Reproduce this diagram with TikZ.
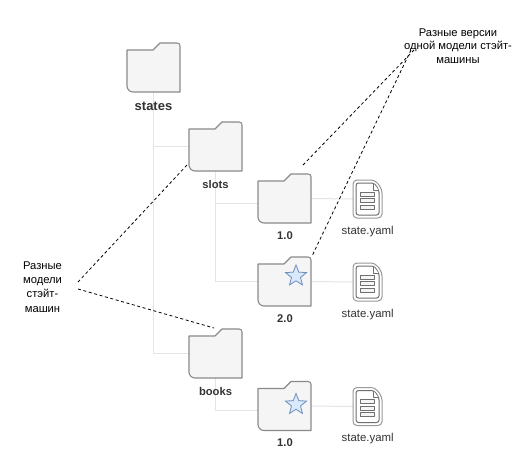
\documentclass[tikz,border=0pt]{standalone}
\usepackage{fontspec}
\setmainfont{Liberation Sans}
\usetikzlibrary{shapes.geometric}
\definecolor{fl}{HTML}{F5F5F5}
\definecolor{fd}{HTML}{8A8A8A}
\definecolor{fd2}{HTML}{707070}
\definecolor{fd3}{HTML}{999999}
\definecolor{tx}{HTML}{333333}
\definecolor{connc}{HTML}{E4E4E4}
\definecolor{stf}{HTML}{DAE8FC}
\definecolor{std}{HTML}{6C8EBF}
\tikzset{
  x=1pt,y=-1pt,
  hold/.style={inner sep=0pt,outer sep=0pt,minimum width=53pt,minimum height=49pt},
  fholder/.style={inner sep=0pt,outer sep=0pt,minimum width=29pt,minimum height=38pt},
  foldershape/.style={draw=fd,fill=fl,line width=1.1pt,line join=round},
  fileshape/.style={draw=fd2,fill=white,line width=1pt,line join=round},
  connline/.style={draw=connc,line width=1pt},
  dashline/.style={draw=black,line width=0.8pt,dash pattern=on 3pt off 2.6pt},
  lab/.style={text=tx,font=\fontsize{11.4}{13}\selectfont},
  blab/.style={text=tx,font=\fontsize{11.2}{13}\selectfont\bfseries},
  note/.style={text=black,font=\fontsize{11.2}{13.4}\selectfont,align=center,inner sep=0pt},
  starshape/.style={star,star points=5,star point ratio=2.3,draw=std,fill=stf,line width=0.8pt,minimum size=22pt,inner sep=0pt}
}
\newcommand{\folderat}[3]{%
  \node[hold] (#1) at (#2,#3) {};
}
\newcommand{\folderdraw}[1]{%
  \draw[foldershape,shift={(#1.north west)}]
    (0,7) -- (26,7) -- (33,0) -- (50,0) .. controls (52,0) and (53,1) .. (53,3)
    -- (53,49) -- (6,49) .. controls (2.7,49) and (0,46.3) .. (0,43) -- cycle;
}
\newcommand{\filedraw}[1]{%
  \begin{scope}[shift={(#1.north west)}]
    \draw[fileshape,draw=fd3,fill=white,rounded corners=4pt] (0,0) -- (22,0) -- (29,9) -- (29,38) -- (0,38) -- cycle;
    \draw[fileshape,rounded corners=2.5pt] (3,3) -- (21,3) -- (26,10) -- (26,35) -- (3,35) -- cycle;
    \draw[fileshape,line width=0.7pt] (20.5,3.5) -- (20.5,10) -- (25.5,10);
    \draw[fileshape,fill=fl,line width=0.8pt] (7,12) rectangle (21,16);
    \draw[fileshape,fill=fl,line width=0.8pt] (7,18.5) rectangle (21,22.5);
    \draw[fileshape,fill=fl,line width=0.8pt] (7,25) rectangle (21,29);
  \end{scope}
}
\begin{document}
\begin{tikzpicture}
\useasboundingbox (0,0) rectangle (516,458);
\fill[white] (0,0) rectangle (516,458);
% positions
\folderat{states}{153.5}{67.5}
\folderat{slots}{215.5}{146.5}
\folderat{books}{215.5}{353.5}
\folderat{va}{284.5}{198.5}
\folderat{vb}{284.5}{281.5}
\folderat{vc}{284.5}{406}
\node[fholder] (fa) at (367.5,199) {};
\node[fholder] (fb) at (367.5,282) {};
\node[fholder] (fc) at (367.5,406.5) {};
\coordinate (vain) at ([yshift=-4.5pt]va.west);
\coordinate (vcin) at ([yshift=-4pt]vc.west);
% connectors
\draw[connline] (states.south) -- (states.south |- books.west) -- (books.west);
\draw[connline] (states.south |- slots.west) -- (slots.west);
\draw[connline] (slots.south) -- (slots.south |- vb.west) -- (vb.west);
\draw[connline] (slots.south |- vain) -- (vain);
\draw[connline] (books.south) -- (books.south |- vcin) -- (vcin);
\draw[connline] (va.east) -- (fa.west);
\draw[connline] (vb.east) -- (fb.west);
\draw[connline] (vc.east) -- (fc.west);
% shapes
\folderdraw{states}\folderdraw{slots}\folderdraw{books}
\folderdraw{va}\folderdraw{vb}\folderdraw{vc}
\filedraw{fa}\filedraw{fb}\filedraw{fc}
\node[starshape] (sb) at (296,276) {};
\node[starshape] (sc) at (296,404.5) {};
% labels
\node[blab,font=\fontsize{13}{14}\selectfont\bfseries] (lstates) at (153.5,106) {states};
\node[blab] (lslots) at (215.5,184) {slots};
\node[blab] (lbooks) at (215.5,391) {books};
\node[blab] (la) at (285,236) {1.0};
\node[blab] (lb) at (285,319) {2.0};
\node[blab] (lc) at (285,443) {1.0};
\node[lab] (ta) at (367.7,232) {state.yaml};
\node[lab] (tb) at (367.7,315) {state.yaml};
\node[lab] (tc) at (367.7,439) {state.yaml};
\node[note] (n1) at (458,46) {Разные версии\\одной модели стэйт-\\машины};
\node[note,font=\fontsize{11.2}{14.2}\selectfont] (n2) at (42.5,287) {Разные\\модели\\стэйт-\\машин};
% dashed
\coordinate (n1a) at (414,50);
\coordinate (n1b) at (411,50);
\coordinate (n2a) at (78,282);
\coordinate (n2b) at (78,289);
\coordinate (ea) at (303,165);
\coordinate (eb) at (312,256);
\coordinate (ec) at (187,165);
\coordinate (ed) at (214,328);
\draw[dashline] (n1a) -- (ea);
\draw[dashline] (n1b) -- (eb);
\draw[dashline] (n2a) -- (ec);
\draw[dashline] (n2b) -- (ed);
\end{tikzpicture}
\end{document}
